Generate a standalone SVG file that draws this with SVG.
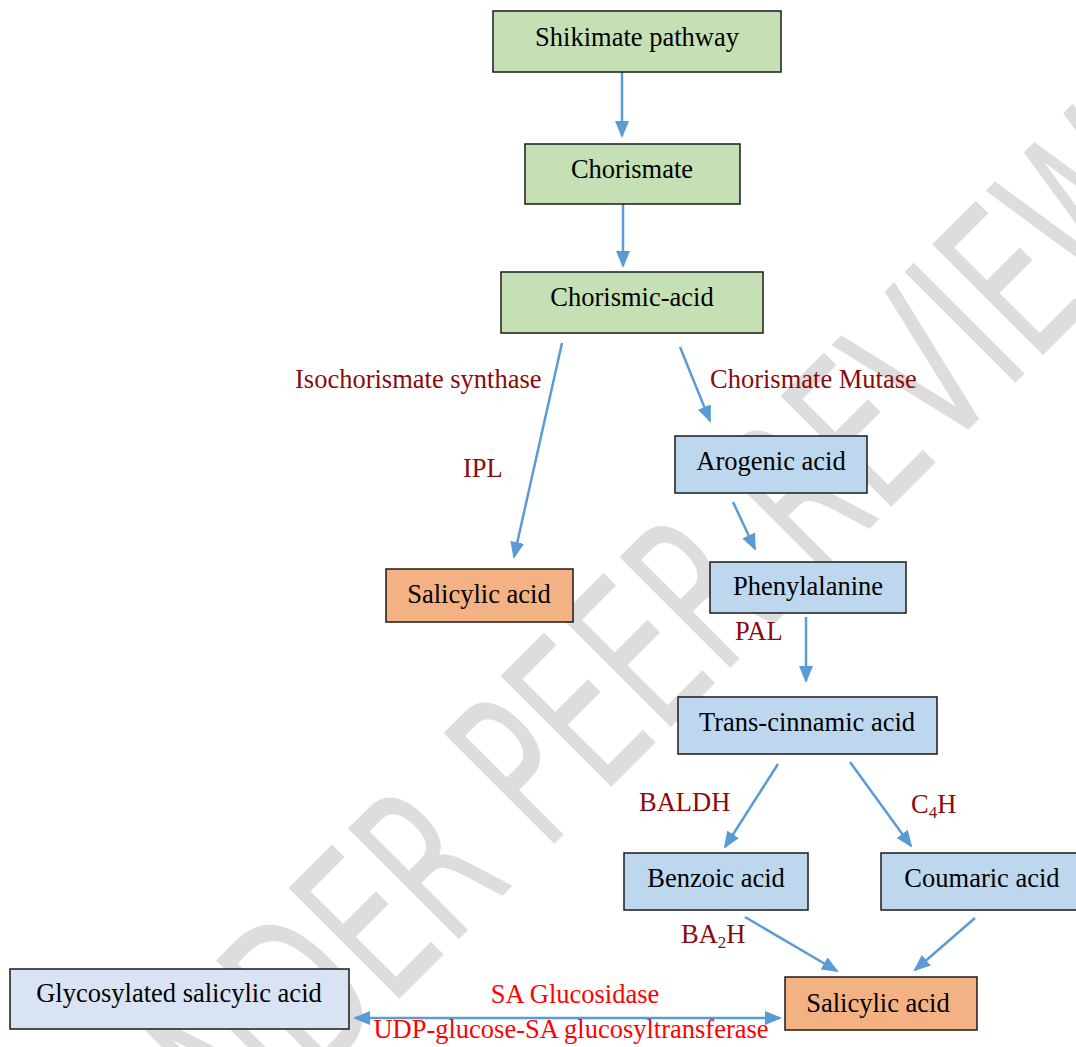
<svg xmlns="http://www.w3.org/2000/svg" width="1076" height="1047" viewBox="0 0 1076 1047">
<defs>
<style>
.box{stroke:#1a1a1a;stroke-width:1.5}
.g{fill:#c5e0b4}.b{fill:#bdd7ee}.o{fill:#f4b183}.lb{fill:#dae3f3}
.t{font-family:"Liberation Serif","Times New Roman",serif;font-size:26.5px;fill:#000;text-anchor:middle}
.lab{font-family:"Liberation Serif","Times New Roman",serif;font-size:26.5px;fill:#8b0a0a}
.red{font-family:"Liberation Serif","Times New Roman",serif;font-size:26.5px;fill:#ff0000;text-anchor:middle}
.arr{stroke:#5b9bd5;stroke-width:2.5;fill:none;marker-end:url(#ah)}
.wm{font-family:"DejaVu Sans",sans-serif;font-size:215px;fill:#dddddd}
</style>
<marker id="ah" viewBox="0 0 17 14" refX="15" refY="7" markerWidth="17" markerHeight="14" markerUnits="userSpaceOnUse" orient="auto-start-reverse">
<path d="M0,0 L17,7 L0,14 z" fill="#5b9bd5"/>
</marker>
</defs>
<rect width="1076" height="1047" fill="#fff"/>
<text class="wm" transform="translate(178,1220) rotate(-45) scale(0.62,1)">UNDER PEER REVIEW</text>

<g id="connectors">
<line class="arr" x1="622" y1="72" x2="622" y2="136"/>
<line class="arr" x1="623" y1="204" x2="623" y2="266"/>
<line class="arr" x1="562" y1="343" x2="514" y2="557"/>
<line class="arr" x1="680" y1="347" x2="710" y2="421"/>
<line class="arr" x1="733" y1="502" x2="755" y2="549"/>
<line class="arr" x1="806" y1="617" x2="806" y2="681"/>
<line class="arr" x1="778" y1="764" x2="725" y2="847"/>
<line class="arr" x1="850" y1="762" x2="911" y2="846"/>
<line class="arr" x1="745" y1="917" x2="837" y2="971"/>
<line class="arr" x1="975" y1="918" x2="915" y2="970"/>
<line class="arr" x1="355" y1="1018" x2="780" y2="1018" style="marker-start:url(#ah)"/>
</g>

<g id="shikimate"><rect class="box g" x="493" y="11" width="288" height="61"/><text class="t" x="637" y="46">Shikimate pathway</text></g>
<g id="chorismate"><rect class="box g" x="525" y="144" width="215" height="60"/><text class="t" x="632" y="178">Chorismate</text></g>
<g id="chorismic"><rect class="box g" x="501" y="272" width="262" height="61"/><text class="t" x="632" y="306">Chorismic-acid</text></g>
<g id="salicylic1"><rect class="box o" x="386" y="569" width="187" height="53"/><text class="t" x="479" y="603">Salicylic acid</text></g>
<g id="arogenic"><rect class="box b" x="675" y="436" width="192" height="57"/><text class="t" x="771" y="470">Arogenic acid</text></g>
<g id="phenylalanine"><rect class="box b" x="710" y="562" width="196" height="51"/><text class="t" x="808" y="595">Phenylalanine</text></g>
<g id="transcinnamic"><rect class="box b" x="678" y="697" width="259" height="57"/><text class="t" x="807" y="731">Trans-cinnamic acid</text></g>
<g id="benzoic"><rect class="box b" x="624" y="853" width="184" height="57"/><text class="t" x="716" y="887">Benzoic acid</text></g>
<g id="coumaric"><rect class="box b" x="881" y="853" width="210" height="57"/><text class="t" x="982" y="887">Coumaric acid</text></g>
<g id="salicylic2"><rect class="box o" x="785" y="977" width="192" height="53"/><text class="t" x="878" y="1012">Salicylic acid</text></g>
<g id="glycosylated"><rect class="box lb" x="10" y="969" width="339" height="60"/><text class="t" x="179" y="1002">Glycosylated salicylic acid</text></g>

<g id="labels">
<text class="lab" x="295" y="388">Isochorismate synthase</text>
<text class="lab" x="710" y="388">Chorismate Mutase</text>
<text class="lab" x="463" y="477">IPL</text>
<text class="lab" x="735" y="640">PAL</text>
<text class="lab" x="639" y="811">BALDH</text>
<text class="lab" x="911" y="813">C<tspan font-size="17" dy="5">4</tspan><tspan dy="-5">H</tspan></text>
<text class="lab" x="681" y="943">BA<tspan font-size="17" dy="5">2</tspan><tspan dy="-5">H</tspan></text>
<text class="red" x="575" y="1003">SA Glucosidase</text>
<text class="red" x="571" y="1038">UDP-glucose-SA glucosyltransferase</text>
</g>
</svg>
